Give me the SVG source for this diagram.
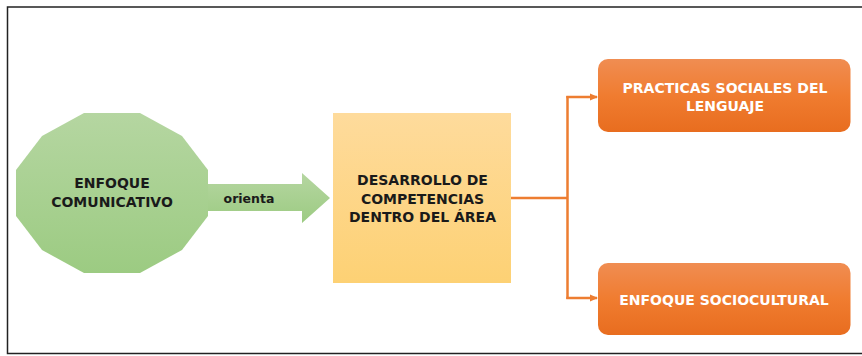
<svg xmlns="http://www.w3.org/2000/svg" width="862" height="356" viewBox="0 0 862 356">
<defs>
<linearGradient id="gGreen" x1="0" y1="0" x2="0" y2="1"><stop offset="0" stop-color="#b5d6a1"/><stop offset="1" stop-color="#9ccb82"/></linearGradient>
<linearGradient id="gYellow" x1="0" y1="0" x2="0" y2="1"><stop offset="0" stop-color="#fedb9c"/><stop offset="1" stop-color="#fdd174"/></linearGradient>
<linearGradient id="gOrange" x1="0" y1="0" x2="0" y2="1"><stop offset="0" stop-color="#f08d52"/><stop offset="0.5" stop-color="#f07c30"/><stop offset="1" stop-color="#e86d1f"/></linearGradient>
<marker id="ah" markerWidth="8" markerHeight="8" refX="7" refY="4" orient="auto" markerUnits="userSpaceOnUse"><path d="M0,0.5 L8,4 L0,7.5 Z" fill="#ed7d31"/></marker>
<style>
.t{font-family:"DejaVu Sans","Liberation Sans",sans-serif;font-weight:bold;font-size:14px;text-anchor:middle;fill:#1a1a1a}
.w{fill:#ffffff;font-size:14px}
.c{fill:none;stroke:#ed7d31;stroke-width:2.5}
</style>
</defs>
<rect x="0" y="0" width="862" height="356" fill="#ffffff"/>
<path d="M870,7 H7.5 V353.5 H870" fill="none" stroke="#222" stroke-width="1.5"/>
<g id="connectors">
<polygon points="207,184 302,184 302,173 330,198 302,223 302,211 207,211" fill="url(#gGreen)"/>
<text class="t" x="249" y="203" style="font-size:12.5px">orienta</text>
<path class="c" d="M511,198 H567.5"/>
<path class="c" d="M567.5,96 V299"/>
<path class="c" d="M566.3,97 H597" marker-end="url(#ah)"/>
<path class="c" d="M566.3,298 H597" marker-end="url(#ah)"/>
</g>
<g id="enfoque-comunicativo">
<polygon points="140,113 84,113 42,136 16,170 16,216 42,250 84,273 140,273 182,250 208,216 208,170 182,136" fill="url(#gGreen)"/>
<text class="t" x="112" y="188">ENFOQUE</text>
<text class="t" x="112" y="207">COMUNICATIVO</text>
</g>
<g id="desarrollo">
<rect x="333" y="113" width="178" height="170" fill="url(#gYellow)"/>
<text class="t" x="422.5" y="185">DESARROLLO DE</text>
<text class="t" x="422.5" y="203.5">COMPETENCIAS</text>
<text class="t" x="422.5" y="222">DENTRO DEL ÁREA</text>
</g>
<g id="practicas">
<rect x="598" y="59" width="252.5" height="73" rx="10" fill="url(#gOrange)"/>
<text class="t w" x="725" y="93">PRACTICAS SOCIALES DEL</text>
<text class="t w" x="725" y="111">LENGUAJE</text>
</g>
<g id="sociocultural">
<rect x="598" y="263" width="252.5" height="72" rx="10" fill="url(#gOrange)"/>
<text class="t w" x="724" y="305">ENFOQUE SOCIOCULTURAL</text>
</g>
</svg>
